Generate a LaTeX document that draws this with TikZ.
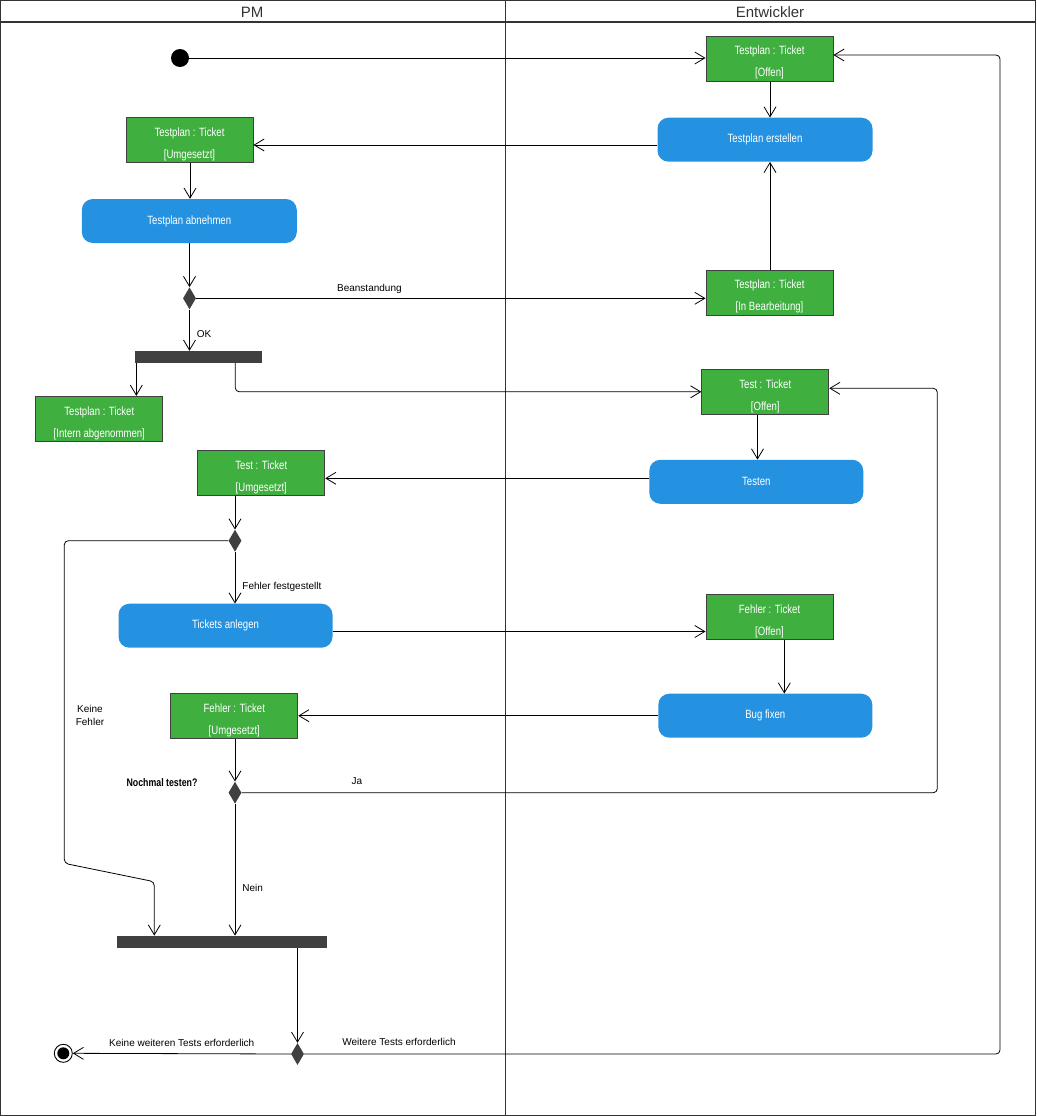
\documentclass[tikz,border=0pt]{standalone}
\usepackage{fontspec}
\setmainfont{Liberation Sans}
\newfontfamily\condfont[FakeStretch=0.8]{Liberation Sans}
\usetikzlibrary{arrows.meta,shapes.geometric}
\definecolor{ticketgreen}{HTML}{3FAF3F}
\definecolor{actblue}{HTML}{2491E1}
\definecolor{darkbar}{HTML}{404040}
\definecolor{lanegray}{HTML}{333333}
\newcommand\ticketstate[2]{\rule{0pt}{17pt}#1\\{}#2}
\tikzset{
  ticket/.style={rectangle,draw=darkbar,line width=0.9pt,fill=ticketgreen,text=white,minimum width=127pt,minimum height=45pt,inner sep=0pt,align=center,font=\condfont\fontsize{12}{22}\selectfont},
  activity/.style={rectangle,rounded corners=11pt,fill=actblue,text=white,minimum width=215pt,minimum height=44pt,inner sep=0pt,font=\condfont\fontsize{12}{14}\selectfont},
  decision/.style={diamond,fill=darkbar,minimum width=13pt,minimum height=22pt,inner sep=0pt},
  bar/.style={rectangle,fill=darkbar,minimum height=12pt,inner sep=0pt},
  startnode/.style={circle,fill=black,minimum size=18pt,inner sep=0pt},
  endnode/.style={circle,draw=black,line width=0.9pt,fill=white,minimum size=18pt,inner sep=0pt,path picture={\fill[black] (path picture bounding box.center) circle (6pt);}},
  flow/.style={line width=0.8pt,-{Straight Barb[length=10pt,width=12pt,line width=0.8pt]}},
  guard/.style={font=\fontsize{10}{13}\selectfont,inner sep=1pt},
  lanehead/.style={text=lanegray,font=\fontsize{15}{17}\selectfont}
}
\begin{document}
\begin{tikzpicture}[x=1pt,y=-1pt]
\useasboundingbox (0,0) rectangle (1036,1116);
\draw[lanegray,line width=1pt] (0.5,0.5) rectangle (1035.5,1115.5);
\draw[lanegray,line width=2pt] (0,22) -- (1036,22);
\draw[lanegray,line width=1pt] (505,0) -- (505,1116);
\node[lanehead] (lanePM) at (252,12) {PM};
\node[lanehead] (laneDev) at (770,12) {Entwickler};

\node[startnode] (start) at (180,58) {};
\node[ticket] (tpOffen) at (769.5,58.7) {\ticketstate{Testplan : Ticket}{[Offen]}};
\node[activity] (tpErstellen) at (765,139.7) {Testplan erstellen};
\node[ticket] (tpUmgesetzt) at (189.5,140) {\ticketstate{Testplan : Ticket}{[Umgesetzt]}};
\node[activity] (tpAbnehmen) at (189.3,221) {Testplan abnehmen};
\node[decision] (dAbnahme) at (189.5,298.3) {};
\node[ticket] (tpBearbeitung) at (769.5,292.7) {\ticketstate{Testplan : Ticket}{[In Bearbeitung]}};
\node[bar,minimum width=127pt] (forkA) at (198.5,357) {};
\node[ticket] (tpIntern) at (99.3,418.8) {\ticketstate{Testplan : Ticket}{[Intern abgenommen]}};
\node[ticket] (testOffen) at (765.3,391.8) {\ticketstate{Test : Ticket}{[Offen]}};
\node[activity,minimum width=214pt] (testen) at (756.3,481.8) {Testen};
\node[ticket] (testUmgesetzt) at (261.3,472.8) {\ticketstate{Test : Ticket}{[Umgesetzt]}};
\node[decision] (dFehler) at (235,540.7) {};
\node[activity,minimum width=214pt] (ticketsAnlegen) at (225.5,625.7) {Tickets anlegen};
\node[ticket] (fehlerOffen) at (769.5,616.8) {\ticketstate{Fehler : Ticket}{[Offen]}};
\node[activity,minimum width=214pt] (bugFixen) at (765.3,715.7) {Bug fixen};
\node[ticket] (fehlerUmgesetzt) at (234.3,716) {\ticketstate{Fehler : Ticket}{[Umgesetzt]}};
\node[decision] (dNochmal) at (235,792.7) {};
\node[anchor=east,font=\condfont\bfseries\fontsize{11}{13}\selectfont] (nochmal) at (201,783) {Nochmal testen?};
\node[bar,minimum width=210pt] (joinB) at (222,941.8) {};
\node[decision] (dWeitere) at (297.5,1054) {};
\node[endnode] (final) at (63.3,1053.3) {};
\node[guard,align=center] (keineFehler) at (90,715) {Keine\\Fehler};

\draw[flow] (start) -- (start -| tpOffen.west);
\draw[flow] (tpOffen.south -| 770,0) -- (tpErstellen.north -| 770,0);
\draw[flow] (tpErstellen.west |- 0,145) -- (tpUmgesetzt.east |- 0,145);
\draw[flow] (tpUmgesetzt.south -| 190,0) -- (tpAbnehmen.north -| 190,0);
\draw[flow] (tpAbnehmen.south -| dAbnahme) -- (dAbnahme.north);
\draw[flow] (dAbnahme.east) -- (dAbnahme.east -| tpBearbeitung.west) node[guard,pos=0.34,above=3pt] {Beanstandung};
\draw[flow] (tpBearbeitung.north -| 770,0) -- (tpErstellen.south -| 770,0);
\draw[flow] (dAbnahme.south) -- (forkA.north -| dAbnahme) node[guard,pos=0.6,right=6pt] {OK};
\draw[flow] (forkA.south -| 136.3,0) -- (tpIntern.north -| 136.3,0);
\draw[flow,rounded corners=4pt] (forkA.south -| 235.3,0) |- (testOffen.west);
\draw[flow] (testOffen.south -| 757.5,0) -- (testen.north -| 757.5,0);
\draw[flow] (testen.west |- 0,478.3) -- (testUmgesetzt.east |- 0,478.3);
\draw[flow] (testUmgesetzt.south -| dFehler) -- (dFehler.north);
\draw[flow] (dFehler.south) -- (ticketsAnlegen.north -| dFehler) node[guard,pos=0.68,right=6pt] {Fehler festgestellt};
\draw[flow,rounded corners=4pt] (dFehler.west) -| (64.3,863.3) -- (154.3,881.7) -- (joinB.north -| 154.3,0);
\draw[flow] (ticketsAnlegen.east |- 0,631.5) -- (fehlerOffen.west |- 0,631.5);
\draw[flow] (fehlerOffen.south -| 784.3,0) -- (bugFixen.north -| 784.3,0);
\draw[flow] (bugFixen.west) -- (bugFixen.west -| fehlerUmgesetzt.east);
\draw[flow] (fehlerUmgesetzt.south -| dNochmal) -- (dNochmal.north);
\draw[flow,rounded corners=4pt] (dNochmal.east) -| (937.3,388.3) -- (testOffen.east |- 0,388.3);
\node[guard] (ja) at (357,781) {Ja};
\draw[flow] (dNochmal.south) -- (joinB.north -| dNochmal) node[guard,pos=0.64,right=6pt] {Nein};
\draw[flow] (joinB.south -| dWeitere) -- (dWeitere.north);
\draw[flow] (dWeitere.west) -- (final.east) node[guard,midway,above=6pt] {Keine weiteren Tests erforderlich};
\draw[flow,rounded corners=4pt] (dWeitere.east) -| (1000,55) -- (tpOffen.east |- 0,55);
\node[guard] (weitere) at (399,1042) {Weitere Tests erforderlich};
\end{tikzpicture}
\end{document}
